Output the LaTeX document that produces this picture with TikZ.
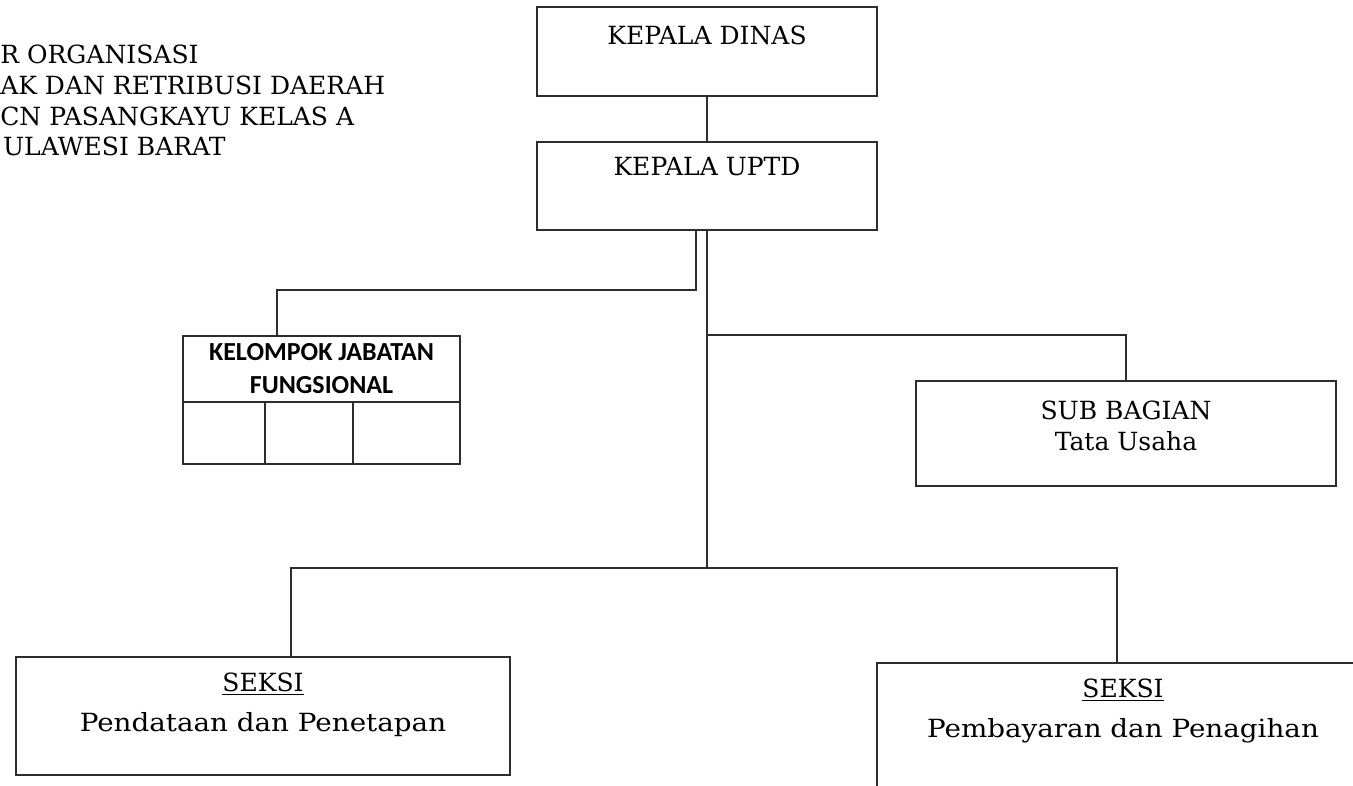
\documentclass[tikz,border=0pt]{standalone}
\usepackage{fontspec}
\setmainfont{DejaVu Serif}
\newfontfamily\calfont{Carlito}
\newfontfamily\lebar[FakeStretch=1.11]{DejaVu Serif}
\usepackage{tikz}
\usetikzlibrary{positioning,calc}
\definecolor{garis}{RGB}{45,45,45}

\begin{document}
\begin{tikzpicture}[x=0.025cm,y=-0.025cm,
  node distance=0.4cm,
  box/.style={draw=garis,line width=1.1pt,inner sep=0pt,outer sep=0pt},
  lbl/.style={inner sep=0pt,align=center,font={\fontsize{17.8}{21.8}\selectfont}},
  hdr/.style={box,align=center,font={\calfont\bfseries\fontsize{18.5}{23.5}\selectfont}},
  conn/.style={draw=garis,line width=1.1pt}]
  \useasboundingbox (0,0) rectangle (1353,786);
  \clip (0,0) rectangle (1353,786);
  % judul (terpotong di kiri)
  \node[lbl,anchor=north west,align=left] (judul) at (0,45)
    {R ORGANISASI\\AK DAN RETRIBUSI DAERAH\\CN PASANGKAYU KELAS A\\\hspace{2pt}ULAWESI BARAT};
  % kotak pimpinan
  \node[box,minimum width=8.5cm,minimum height=2.225cm] (dinas) at (707,51.5) {};
  \node[lbl,below=0.475cm of dinas.north] (tdinas) {KEPALA DINAS};
  \node[box,minimum width=8.5cm,minimum height=2.2cm] (uptd) at (707,186) {};
  \node[lbl,below=0.375cm of uptd.north] (tuptd) {KEPALA UPTD};
  % kelompok jabatan fungsional
  \node[hdr,minimum width=6.925cm,minimum height=1.65cm] (fungh) at (321.5,369) {KELOMPOK JABATAN\\FUNGSIONAL};
  \node[box,minimum width=2.05cm,minimum height=1.55cm,anchor=north west] (c1) at (fungh.south west) {};
  \node[box,minimum width=2.2cm,minimum height=1.55cm,right=0cm of c1] (c2) {};
  \node[box,minimum width=2.675cm,minimum height=1.55cm,right=0cm of c2] (c3) {};
  % sub bagian
  \node[box,minimum width=10.5cm,minimum height=2.625cm] (sub) at (1126,433.5) {};
  \node[lbl,below=0.5cm of sub.north] (tsub) {SUB BAGIAN\\Tata Usaha};
  % seksi
  \node[box,minimum width=12.35cm,minimum height=2.95cm] (sLeft) at (263,716) {};
  \node[lbl,below=0.4cm of sLeft.north] (tsLeft) {\underline{SEKSI}\\[6.7pt]{\lebar Pendataan dan Penetapan}};
  \node[box,minimum width=12.3cm,minimum height=3.25cm] (sRight) at (1123,728) {};
  \node[lbl,below=0.4cm of sRight.north] (tsRight) {\underline{SEKSI}\\[6.7pt]{\lebar Pembayaran dan Penagihan}};
  % garis penghubung
  \coordinate (j1) at (uptd.south |- 0,335);
  \coordinate (j2) at (uptd.south |- 0,568);
  \draw[conn] (dinas) -- (uptd);
  \draw[conn] (uptd.south) -- (j2);
  \draw[conn] ($(uptd.south)+(-11,0)$) -- ++(0,60) -| ($(fungh.north)+(-44.5,0)$);
  \draw[conn] (j1) -| (sub.north);
  \draw[conn] (j2) -| ($(sLeft.north)+(28,0)$);
  \draw[conn] (j2) -| ($(sRight.north)+(-6,0)$);
\end{tikzpicture}
\end{document}
